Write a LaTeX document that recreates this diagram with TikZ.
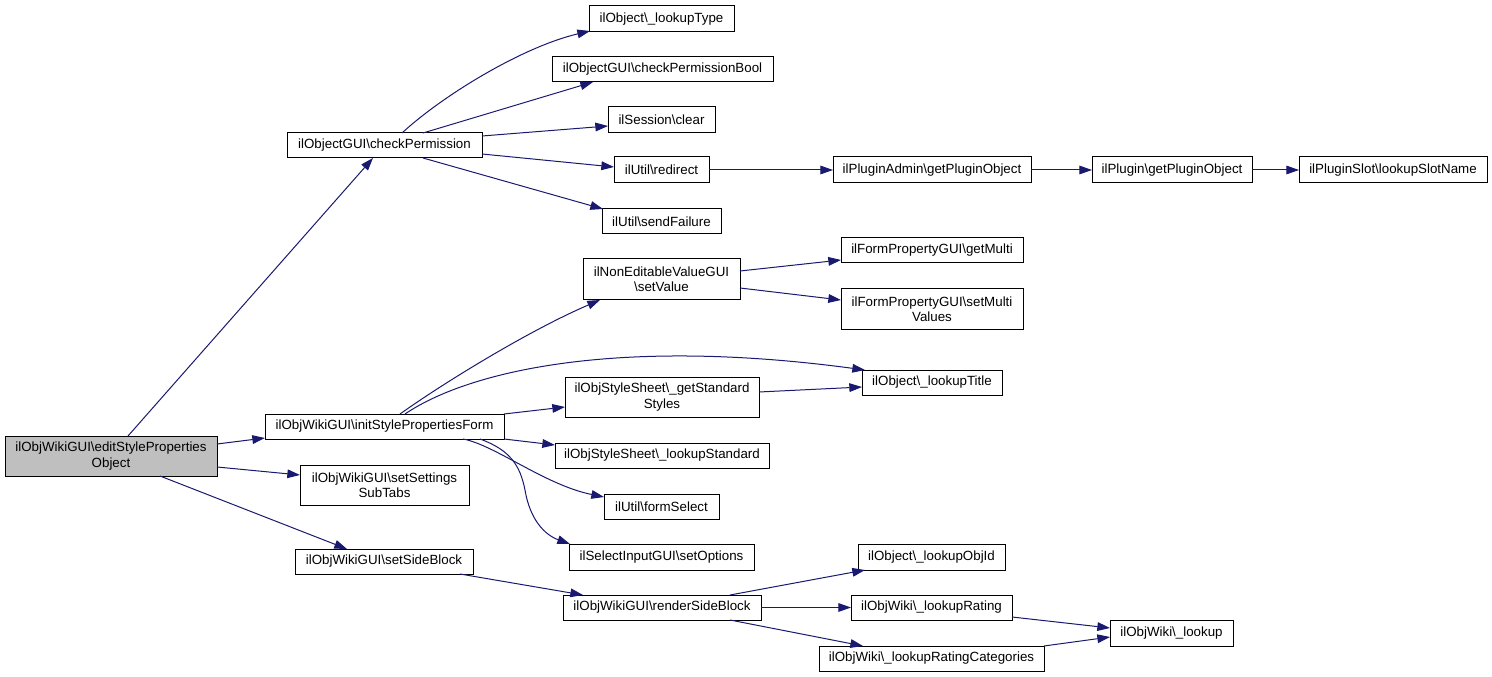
\documentclass[tikz,border=0pt]{standalone}
\usepackage{fontspec}
\setmainfont{Liberation Sans}
\usetikzlibrary{arrows.meta,calc}
\definecolor{edgec}{HTML}{191970}
\definecolor{rootfill}{HTML}{BFBFBF}
\newcommand\bsl{\textbackslash{}}
% \bx[style]{name}{x1}{y1}{x2}{y2}{text}
\newcommand\bx[7][box]{%
  \node[#1,minimum width={(#5-#3)*0.75pt},minimum height={(#6-#4)*0.75pt}]
    (#2) at ({(#3+#5)/2},{(#4+#6)/2}) {#7};}
\begin{document}
\begin{tikzpicture}[x=0.75pt,y=-0.75pt,
 box/.style={draw=black,line width=0.75pt,fill=white,inner sep=0pt,outer sep=0pt,align=center,font=\fontsize{10}{11.5}\selectfont},
 rootbox/.style={box,fill=rootfill},
 e/.style={draw=edgec,line width=0.75pt,-{Triangle[length=9.5pt,width=6.5pt]}}]
\useasboundingbox (0,0) rectangle (1492,677);

% nodes
\bx[rootbox]{edit}{5}{436}{217}{476}{ilObjWikiGUI\bsl editStyleProperties\\Object}
\bx{cp}{287}{133}{482}{158}{ilObjectGUI\bsl checkPermission}
\bx{ltype}{589}{6}{734}{32}{ilObject\bsl\_lookupType}
\bx{cpb}{552}{57}{773}{82}{ilObjectGUI\bsl checkPermissionBool}
\bx{clear}{608}{107}{715}{133}{ilSession\bsl clear}
\bx{redir}{614}{157}{709}{183}{ilUtil\bsl redirect}
\bx{sfail}{602}{209}{721}{234}{ilUtil\bsl sendFailure}
\bx{padmin}{833}{157}{1031}{183}{ilPluginAdmin\bsl getPluginObject}
\bx{plug}{1092}{157}{1252}{183}{ilPlugin\bsl getPluginObject}
\bx{pslot}{1299}{157}{1487}{183}{ilPluginSlot\bsl lookupSlotName}
\bx{nev}{583}{259}{740}{300}{ilNonEditableValueGUI\\\bsl setValue}
\bx{gmulti}{841}{238}{1023}{263}{ilFormPropertyGUI\bsl getMulti}
\bx{smulti}{841}{289}{1023}{329}{ilFormPropertyGUI\bsl setMulti\\Values}
\bx{ltitle}{862}{370}{1002}{395}{ilObject\bsl\_lookupTitle}
\bx{gss}{565}{377}{759}{417}{ilObjStyleSheet\bsl\_getStandard\\Styles}
\bx{init}{265}{414}{504}{439}{ilObjWikiGUI\bsl initStylePropertiesForm}
\bx{lstd}{555}{443}{769}{468}{ilObjStyleSheet\bsl\_lookupStandard}
\bx{sst}{300}{465}{469}{505}{ilObjWikiGUI\bsl setSettings\\SubTabs}
\bx{fsel}{604}{494}{719}{519}{ilUtil\bsl formSelect}
\bx{ssb}{295}{549}{473}{574}{ilObjWikiGUI\bsl setSideBlock}
\bx{sopt}{569}{544}{754}{570}{ilSelectInputGUI\bsl setOptions}
\bx{rsb}{563}{595}{761}{620}{ilObjWikiGUI\bsl renderSideBlock}
\bx{loid}{858}{544}{1005}{570}{ilObject\bsl\_lookupObjId}
\bx{lrat}{851}{595}{1012}{620}{ilObjWiki\bsl\_lookupRating}
\bx{lrc}{819}{646}{1044}{671}{ilObjWiki\bsl\_lookupRatingCategories}
\bx{look}{1110}{620}{1233}{646}{ilObjWiki\bsl\_lookup}

% edges from root
\draw[e] ($(edit.north west)+(123,0)$) -- ($(cp.north west)+(86,25)$);
\draw[e] ($(edit.north west)+(212,8)$) -- ($(init.north west)+(0,24)$);
\draw[e] ($(edit.north west)+(212,31)$) -- ($(sst.north west)+(0,10)$);
\draw[e] ($(edit.north west)+(155,40)$) -- ($(ssb.north west)+(52,0)$);

% checkPermission
\draw[e] ($(cp.north west)+(115,0)$) .. controls (442,96) and (522,47) .. ($(ltype.north west)+(1,25)$);
\draw[e] ($(cp.north west)+(136,0)$) -- ($(cpb.north west)+(41,25)$);
\draw[e] ($(cp.north west)+(195,3)$) -- ($(clear.north west)+(0,19)$);
\draw[e] ($(cp.north west)+(195,21)$) -- ($(redir.north west)+(0,10)$);
\draw[e] ($(cp.north west)+(136,25)$) -- ($(sfail.north west)+(1,0)$);

% plugin chain
\draw[e] (redir.east) -- (padmin.west);
\draw[e] (padmin.east) -- (plug.west);
\draw[e] (plug.east) -- (pslot.west);

% initStylePropertiesForm
\draw[e] ($(init.north west)+(135,0)$) .. controls (445,382) and (530,330) .. ($(nev.north west)+(17,41)$);
\draw[e] ($(init.north west)+(140,0)$) .. controls (470,370) and (620,337) .. ($(ltitle.north west)+(3,0)$);
\draw[e] ($(init.north west)+(239,0)$) -- ($(gss.north west)+(0,30)$);
\draw[e] ($(gss.north west)+(194,15)$) -- ($(ltitle.north west)+(0,17)$);
\draw[e] ($(init.north west)+(239,25)$) -- ($(lstd.north west)+(0,2)$);
\draw[e] ($(init.north west)+(198,25)$) .. controls (495,445) and (545,485) .. ($(fsel.north west)+(0,3)$);
\draw[e] ($(init.north west)+(215,25)$) .. controls (510,450) and (520,465) .. (525,490) .. controls (530,520) and (545,535) .. ($(sopt.north west)+(1,0)$);

% NonEditableValueGUI
\draw[e] ($(nev.north west)+(157,12)$) -- ($(gmulti.north west)+(0,22)$);
\draw[e] ($(nev.north west)+(157,29)$) -- ($(smulti.north west)+(0,11)$);

% side block
\draw[e] ($(ssb.north west)+(165,25)$) -- ($(rsb.north west)+(20,0)$);
\draw[e] ($(rsb.north west)+(167,0)$) -- ($(loid.north west)+(7,26)$);
\draw[e] (rsb.east) -- (lrat.west);
\draw[e] ($(rsb.north west)+(167,25)$) -- ($(lrc.north west)+(44,0)$);
\draw[e] ($(lrat.north west)+(161,22)$) -- ($(look.north west)+(0,8)$);
\draw[e] ($(lrc.north west)+(225,0)$) -- ($(look.north west)+(0,17)$);
\end{tikzpicture}
\end{document}
